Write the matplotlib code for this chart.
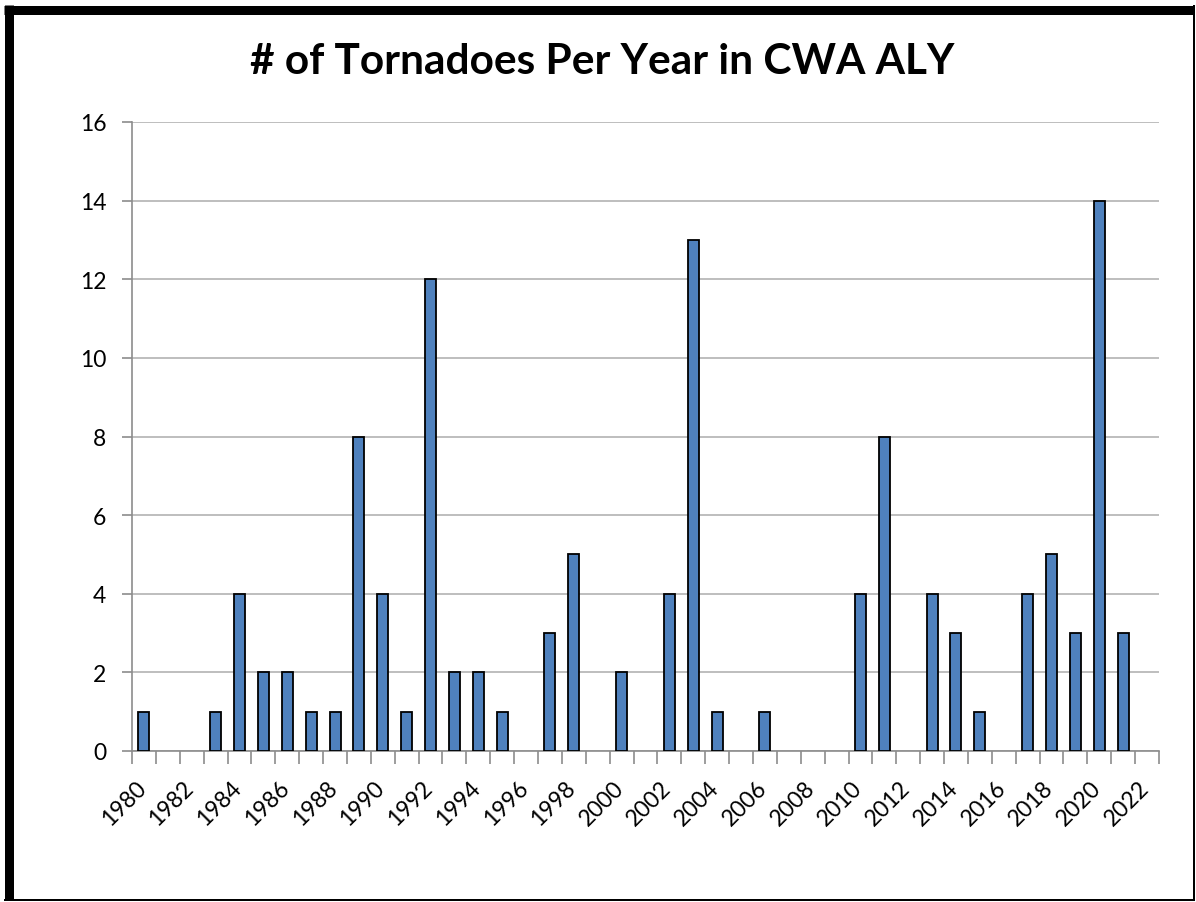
import matplotlib
matplotlib.use("Agg")
import matplotlib.pyplot as plt
import matplotlib.transforms as mtransforms
from matplotlib.lines import Line2D
from matplotlib.ticker import MultipleLocator, FixedLocator

plt.rcParams['font.family'] = ['Lato', 'DejaVu Sans']

years = list(range(1980, 2023))
tornadoes = [1, 0, 0, 1, 4, 2, 2, 1, 1, 8,
             4, 1, 12, 2, 2, 1, 0, 3, 5, 0,
             2, 0, 4, 13, 1, 0, 1, 0, 0, 0,
             4, 8, 0, 4, 3, 1, 0, 4, 5, 3,
             14, 3, 0]
title = "# of Tornadoes Per Year in CWA ALY"

W, H = 1196, 903
fig = plt.figure(figsize=(W / 100, H / 100), dpi=100)
fig.patch.set_facecolor('white')

ax = fig.add_axes([132 / W, 1 - 752 / H, (1159 - 132) / W, (752 - 123) / H])

x = list(range(len(years)))
# zero-count years get no outline so nothing shows on the baseline
edge_widths = [1.3 if v > 0 else 0 for v in tornadoes]
ax.bar(x, tornadoes, width=0.46, color='#4F81BD', edgecolor='black',
       linewidth=edge_widths, zorder=3)

ax.set_xlim(-0.5, len(years) - 0.5)
ax.set_ylim(0, 16)
ax.yaxis.set_major_locator(MultipleLocator(2))
ax.grid(axis='y', color='#B3B3B3', linewidth=1.2, zorder=0)

for side in ('top', 'right'):
    ax.spines[side].set_visible(False)
for side in ('left', 'bottom'):
    ax.spines[side].set_color('#8C8C8C')
    ax.spines[side].set_linewidth(1.2)

# category boundaries as small tick marks, labels on every other year
ax.xaxis.set_minor_locator(FixedLocator([i - 0.5 for i in range(len(years) + 1)]))
ax.tick_params(axis='x', which='minor', length=9, width=1.2, color='#8C8C8C')
label_pos = [i for i, y in enumerate(years) if y % 2 == 0]
ax.set_xticks(label_pos)
ax.set_xticklabels([str(years[i]) for i in label_pos], rotation=45,
                   ha='right', va='top', fontsize=16.5, rotation_mode='default')
ax.tick_params(axis='x', which='major', length=0, pad=18.5)
shift = mtransforms.ScaledTranslation(6 / 100, 0, fig.dpi_scale_trans)
for lbl in ax.get_xticklabels():
    lbl.set_transform(lbl.get_transform() + shift)
ax.tick_params(axis='y', length=7, width=1.2, color='#8C8C8C',
               labelsize=16.5, pad=11.5)

fig.text(0.5 + 4 / W, 1 - 62 / H, title, ha='center', va='center',
         fontsize=30.5, fontweight='bold')

# frame around the chart: heavy on the left and top, thin on right and bottom
def px_line(x0, y0, x1, y1, lw_px):
    fig.add_artist(Line2D([x0 / W, x1 / W], [1 - y0 / H, 1 - y1 / H],
                          transform=fig.transFigure, color='black',
                          linewidth=lw_px * 0.72, solid_capstyle='butt'))

px_line(4, 10.5, 1194, 10.5, 9)
px_line(8.5, 6, 8.5, 901, 9)
px_line(1193.5, 6, 1193.5, 902, 2)
px_line(4, 900.5, 1194, 900.5, 2)

fig.savefig('out.png', dpi=100, facecolor='white')
